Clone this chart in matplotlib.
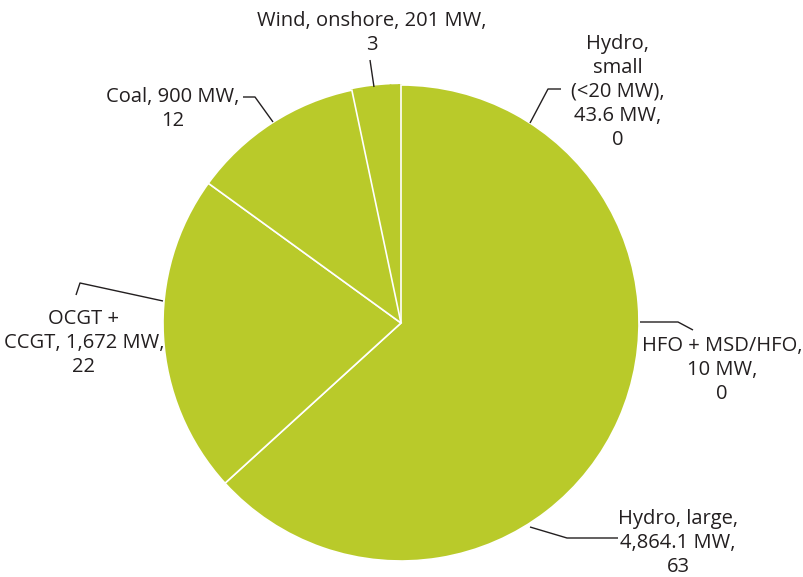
import matplotlib
matplotlib.use("Agg")
import matplotlib.pyplot as plt

names = ["Hydro, large", "OCGT +\nCCGT", "Coal", "Wind, onshore",
         "Hydro,\nsmall\n(<20 MW)", "HFO + MSD/HFO"]
mw = [4864.1, 1672, 900, 201, 43.6, 10]
share = [63, 22, 12, 3, 0, 0]
# how each label breaks between name and MW value
name_break = ["\n", " ", " ", " ", "\n", "\n"]

pie_color = "#b9ca2a"

W, H = 804, 577
fig = plt.figure(figsize=(W / 100, H / 100), dpi=100)
ax = fig.add_axes([0, 0, 1, 1])

def py(y):
    # pixel y measured from top -> data y
    return H - y

wedges, _ = ax.pie(mw, startangle=90, counterclock=False, center=(401, py(323)),
                   radius=238, colors=[pie_color] * len(mw),
                   wedgeprops=dict(edgecolor="white", linewidth=1.2))
# the thin slices at the top show no separators in the original
for w in wedges[3:]:
    w.set_edgecolor(pie_color)
    w.set_zorder(1)
for w in wedges[:3]:
    w.set_zorder(2)

ax.set_xlim(0, W)
ax.set_ylim(0, H)
ax.set_aspect("equal")
ax.axis("off")

# label centres and leader lines (pixel coords, y from top)
label_pos = [(678, 543), (84, 343), (173, 109), (372, 33), (618, 92), (722, 370)]
leaders = [
    [(530, 527), (567, 538), (618, 538)],
    [(163, 301), (80, 283), (76, 295)],
    [(243, 97), (255, 97), (273, 122)],
    [(370, 60), (374, 87)],
    [(561, 89), (548, 89), (530, 123)],
    [(640, 322), (678, 322), (693, 330)],
]

for i in range(len(mw)):
    txt = f"{names[i]},{name_break[i]}{mw[i]:,g} MW,\n{share[i]}"
    x, y = label_pos[i]
    ax.text(x, py(y), txt, ha="center", va="center", fontsize=14.5,
            family="Open Sans", color="#231f20", linespacing=1.27)
    xs = [p[0] for p in leaders[i]]
    ys = [py(p[1]) for p in leaders[i]]
    ax.plot(xs, ys, color="#231f20", lw=1.0, solid_capstyle="butt", zorder=3)

fig.savefig("out.png", dpi=100)
